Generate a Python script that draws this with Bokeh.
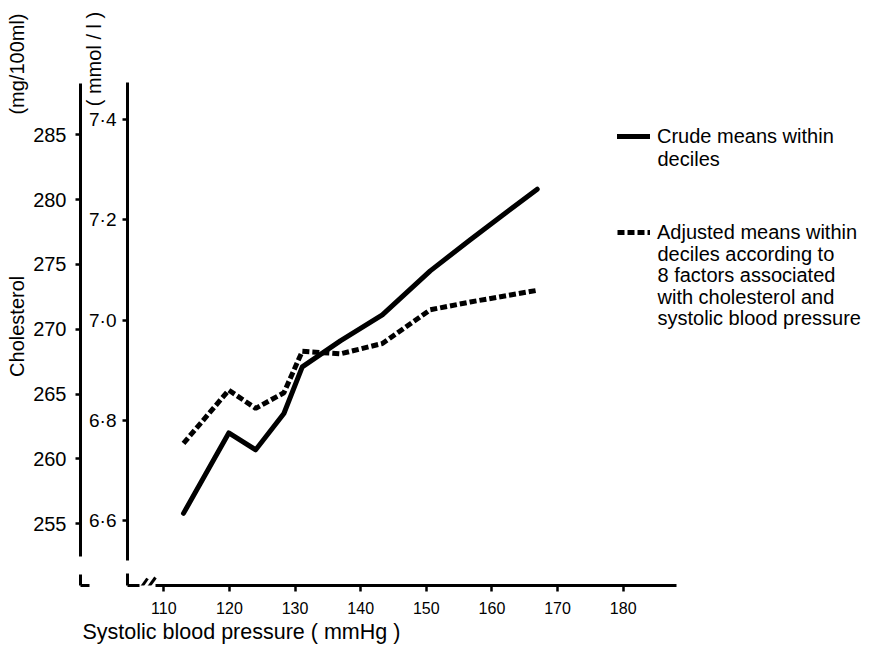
from bokeh.plotting import figure
from bokeh.models import (Range1d, LinearAxis, FixedTicker, CustomJSTickFormatter,
                          Label, PolyAnnotation, Legend, LegendItem, Title)
from bokeh.embed import file_html
from bokeh.resources import INLINE

# ---------------- data ----------------
sbp = [113.0, 119.9, 124.0, 128.3, 131.1, 136.9, 143.3, 150.6, 156.7, 166.9]
crude_means = [255.8, 262.0, 260.7, 263.5, 267.1, 269.1, 271.1, 274.5, 276.9, 280.8]
adjusted_means = [261.2, 265.3, 263.9, 265.1, 268.3, 268.1, 268.9, 271.5, 272.1, 273.0]

x_ticks = [110, 120, 130, 140, 150, 160, 170, 180]
mg_ticks = [255, 260, 265, 270, 275, 280, 285]
mmol_ticks = [6.6, 6.8, 7.0, 7.2, 7.4]
mmol_tick_labels = ["6·6", "6·8", "7·0", "7·2", "7·4"]

legend_crude = ["Crude means within", "deciles"]
legend_adjusted = ["Adjusted means within", "deciles according to", "8 factors associated",
                   "with cholesterol and", "systolic blood pressure"]
x_title = "Systolic blood pressure ( mmHg )"
y_title = "Cholesterol"
mg_unit = "(mg/100ml)"
mmol_unit = "( mmol / l )"

MG_PER_MMOL = 38.67
FONT = "Liberation Sans"
NB = "\u00a0"

# ---------------- layout constants ----------------
X0, X1 = 104.469, 218.75
Y0, Y1 = 250.24, 290.72
FL, FB = 127, 585  # frame left / bottom in page pixels

p = figure(width=877, height=648, output_backend="svg", toolbar_location=None,
           x_range=Range1d(X0, X1), y_range=Range1d(Y0, Y1),
           y_axis_location=None,
           min_border_left=127, min_border_right=0, min_border_top=60, min_border_bottom=63)
p.extra_y_ranges = {"mmol": Range1d(Y0 / MG_PER_MMOL, Y1 / MG_PER_MMOL)}
p.outline_line_color = None
for g in p.grid:
    g.visible = False
p.background_fill_color = "white"
p.border_fill_color = "white"

# x axis (starts after the "//" break)
xa = p.xaxis[0]
xa.ticker = FixedTicker(ticks=x_ticks)
xa.bounds = (108.74, 188.12)
xa.axis_line_width = 3
xa.major_tick_out = 6
xa.major_tick_in = 0
xa.major_tick_line_width = 2.5
xa.minor_tick_line_color = None
xa.major_label_standoff = 10
xa.major_label_text_font = FONT
xa.major_label_text_font_size = "16px"
xa.major_label_text_color = "black"

p.add_layout(Title(text=x_title, align="left", offset=82 - FL, standoff=2,
                   text_font=FONT, text_font_size="21.5px", text_font_style="normal",
                   text_color="black"), "below")

blank = CustomJSTickFormatter(code="return '';")


def stub_axis(lo, hi, foot):
    """Zero-width axis drawing only the short piece of axis below the break, with its foot."""
    return LinearAxis(ticker=FixedTicker(ticks=[Y0 + 0.02]),
                      formatter=blank, bounds=(lo, hi),
                      major_tick_out=0, major_tick_in=foot, major_tick_line_width=3,
                      major_label_standoff=0, minor_tick_line_color=None,
                      axis_line_width=3)


# inner stub (below the break of the mmol axis)
p.add_layout(stub_axis(Y0, 251.2, 12), "left")

# inner (mmol/l) axis, its unit written at the top of the axis
ax_mmol = LinearAxis(
    y_range_name="mmol",
    ticker=FixedTicker(ticks=mmol_ticks),
    formatter=CustomJSTickFormatter(
        args=dict(vals=mmol_ticks, labs=mmol_tick_labels),
        code="const i = vals.findIndex(v => Math.abs(v - tick) < 1e-6); return i >= 0 ? labs[i] : '';"),
    bounds=(252.2 / MG_PER_MMOL, 289.0 / MG_PER_MMOL),
    axis_label=NB * 95 + mmol_unit, axis_label_standoff=-19,
    axis_label_text_font=FONT, axis_label_text_font_size="20px",
    axis_label_text_font_style="normal", axis_label_text_color="black",
    major_label_standoff=6, major_tick_out=5, major_tick_in=0,
    major_tick_line_width=2.5, minor_tick_line_color=None, axis_line_width=3,
    major_label_text_font=FONT, major_label_text_font_size="19px",
    major_label_text_color="black")
p.add_layout(ax_mmol, "left")

# outer stub (below the break of the mg axis), with its foot
p.add_layout(stub_axis(Y0, 251.1, 9), "left")

# outer (mg/100ml) axis
ax_mg = LinearAxis(
    ticker=FixedTicker(ticks=mg_ticks),
    bounds=(252.5, 288.95),
    axis_label=NB * 46 + y_title + NB * 29 + mg_unit, axis_label_standoff=2,
    axis_label_text_font=FONT, axis_label_text_font_size="20px",
    axis_label_text_font_style="normal", axis_label_text_color="black",
    major_label_standoff=9, major_tick_out=5, major_tick_in=0,
    major_tick_line_width=2.5, minor_tick_line_color=None, axis_line_width=3,
    major_label_text_font=FONT, major_label_text_font_size="20px",
    major_label_text_color="black")
p.add_layout(ax_mg, "left")

# data lines
r_crude = p.line(sbp, crude_means, line_width=5, line_color="black",
                 line_join="round", line_cap="round")
r_adj = p.line(sbp, adjusted_means, line_width=5, line_color="black",
               line_dash="7 3")

legend = Legend(items=[LegendItem(label=legend_crude[0], renderers=[r_crude]),
                       LegendItem(label=legend_adjusted[0], renderers=[r_adj])],
                location=(490, 341.5), glyph_width=33, glyph_height=20, label_height=20,
                label_standoff=7, spacing=73, padding=0, margin=0,
                border_line_color=None, background_fill_alpha=0,
                label_text_font=FONT, label_text_font_size="20px", label_text_color="black")
p.add_layout(legend)

# continuation lines of the legend texts (page y of each line centre)
cont = [(legend_crude[1], 158.3)] + list(zip(legend_adjusted[1:], [253.4, 274.7, 296.0, 317.3]))
for txt, yc in cont:
    p.add_layout(Label(x=657 - FL, y=FB - yc, x_units="screen", y_units="screen",
                       text=txt, text_align="left", text_baseline="middle",
                       text_font=FONT, text_font_size="20px", text_color="black"))

# "//" break marks on the x axis (page pixel coordinates)
breaks = [((140, 588), (147, 578)), ((147, 588), (155, 577))]
for (ax1, ay1), (ax2, ay2) in breaks:
    p.add_layout(PolyAnnotation(xs=[ax1 - FL, ax2 - FL], ys=[FB - ay1, FB - ay2],
                                xs_units="screen", ys_units="screen",
                                fill_alpha=0, line_color="black", line_alpha=1,
                                line_width=3))

open("out.html", "w").write(file_html(p, INLINE))
